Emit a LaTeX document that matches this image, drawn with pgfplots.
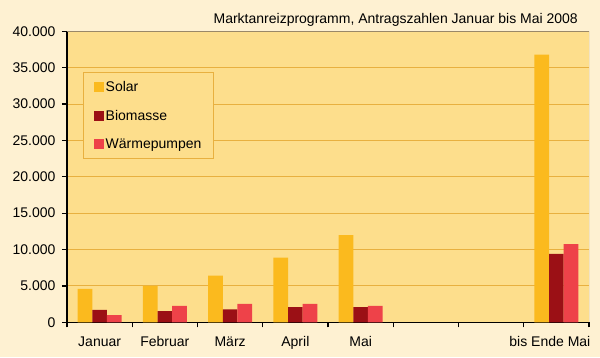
\documentclass[border=0pt]{standalone}
\usepackage{fontspec}
\setmainfont{Liberation Sans}
\usepackage{pgfplots}
\pgfplotsset{compat=1.18}
\definecolor{bgout}{HTML}{FEF1D2}
\definecolor{bgplot}{HTML}{FDDE8C}
\definecolor{gridc}{HTML}{E8B040}
\definecolor{solar}{HTML}{FBBA1E}
\definecolor{bio}{HTML}{9B1015}
\definecolor{wp}{HTML}{EE4249}
\definecolor{rborder}{HTML}{9A8868}
\begin{document}
\begin{tikzpicture}[x=1pt,y=1pt]
\fill[bgout] (0,0) rectangle (600,357);
\node[anchor=base east, font=\fontsize{14}{16}\selectfont, inner sep=0pt] at (578,333) {Marktanreizprogramm, Antragszahlen Januar bis Mai 2008};
\begin{axis}[
  at={(67pt,34.7pt)}, anchor=south west,
  scale only axis, width=522pt, height=291pt,
  axis background/.style={fill=bgplot},
  axis lines*=left,
  axis line style={black, line width=1.2pt},
  ybar=0pt, bar width=14.6pt,
  xmin=-0.5, xmax=7.5, ymin=0, ymax=40000,
  xtick={0,...,7},
  xticklabels={Januar,Februar,März,April,Mai,,,{\makebox[0pt][r]{bis Ende Mai}\hspace*{-68pt}}},
  minor xtick={-0.5,0.5,...,7.5},
  major x tick style={draw=none},
  minor x tick style={black, line width=1.2pt},
  minor tick length=5pt,
  ytick={0,5000,...,35000},
  ymajorgrids,
  grid style={gridc, line width=1.1pt},
  y tick style={black, line width=1.2pt},
  extra y ticks={40000},
  extra y tick style={grid=none},
  major tick length=5pt,
  tick align=outside,
  scaled y ticks=false,
  /pgf/number format/.cd, 1000 sep={.}, assume math mode=true,
  /pgfplots/.cd,
  ticklabel style={font=\fontsize{14}{16}\selectfont},
  yticklabel style={xshift=-3pt},
  xticklabel style={yshift=-6pt},
]
\addplot[fill=solar, draw=none] coordinates {(0,4600) (1,5000) (2,6400) (3,8900) (4,12000) (7,36800)};
\addplot[fill=bio, draw=none] coordinates {(0,1700) (1,1550) (2,1780) (3,2100) (4,2100) (7,9400)};
\addplot[fill=wp, draw=none] coordinates {(0,1000) (1,2250) (2,2550) (3,2550) (4,2250) (7,10750)};
\draw[rborder, line width=1pt] (rel axis cs:0,1) -- (rel axis cs:1,1) -- (rel axis cs:1,0);
\end{axis}
\begin{axis}[
  at={(67pt,34.7pt)}, anchor=south west,
  scale only axis, width=522pt, height=291pt,
  hide axis, xmin=0, xmax=1, ymin=0, ymax=1,
  legend style={at={(0.031,0.86)}, anchor=north west, draw=gridc, line width=1pt,
    fill=bgplot, fill opacity=1, preaction={fill=bgplot},
    font=\fontsize{14}{16}\selectfont, row sep=13pt, inner xsep=10pt, inner ysep=7pt},
  legend cell align=left,
  legend image code/.code={\fill[#1,draw=none] (1pt,-5pt) rectangle (11pt,5pt);},
]
\addlegendimage{fill=solar, draw=none}
\addlegendimage{fill=bio, draw=none}
\addlegendimage{fill=wp, draw=none}
\legend{Solar,Biomasse,Wärmepumpen}
\end{axis}
\end{tikzpicture}
\end{document}
